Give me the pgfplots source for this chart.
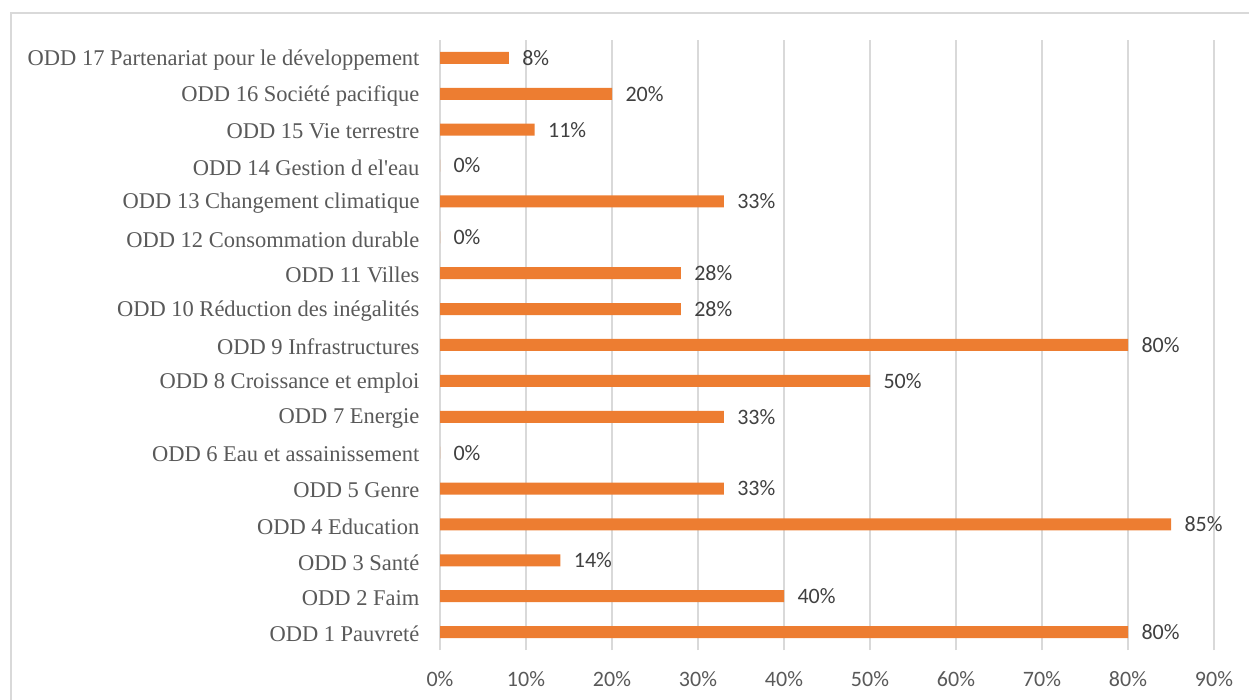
\documentclass[border=0pt]{standalone}
\usepackage{fontspec}
\setmainfont{Carlito}
\newfontfamily\serifl{Liberation Serif}
\usepackage{pgfplots}
\pgfplotsset{compat=1.18}
\definecolor{barorange}{HTML}{ED7D31}
\definecolor{txtgray}{HTML}{595959}
\definecolor{gridgray}{HTML}{D9D9D9}
\begin{document}
\begin{tikzpicture}
\begin{axis}[
  at={(440bp,50bp)}, anchor=south west,
  scale only axis,
  width=774bp, height=610bp,
  xbar, bar width=12bp,
  xmin=0, xmax=90,
  ymin=0.5, ymax=17.5,
  xtick={0,10,...,90},
  ytick={1,...,17},
  yticklabels={ODD 1 Pauvreté,ODD 2 Faim,ODD 3 Santé,ODD 4 Education,ODD 5 Genre,ODD 6 Eau et assainissement,ODD 7 Energie,ODD 8 Croissance et emploi,ODD 9 Infrastructures,ODD 10 Réduction des inégalités,ODD 11 Villes,ODD 12 Consommation durable,ODD 13 Changement climatique,ODD 14 Gestion d el'eau,ODD 15 Vie terrestre,ODD 16 Société pacifique,ODD 17 Partenariat pour le développement},
  yticklabel style={font=\serifl\fontsize{22.5bp}{26bp}\selectfont, text=txtgray, xshift=-17bp, yshift=-2bp},
  xticklabel={\pgfmathprintnumber{\tick}\%},
  xticklabel style={font=\fontsize{22bp}{26bp}\selectfont, text=txtgray, yshift=-18bp},
  /pgf/number format/assume math mode=true,
  axis line style={draw=none},
  major tick length=0pt,
  xmajorgrids,
  grid style={draw=gridgray, line width=1.5bp},
  nodes near coords={\pgfmathprintnumber{\pgfplotspointmeta}\%},
  nodes near coords style={font=\fontsize{22bp}{26bp}\selectfont, text=black!75, anchor=west, xshift=10bp},
  clip=false,
]
\addplot[fill=barorange, draw=none] coordinates {
(80,1) (40,2) (14,3) (85,4) (33,5) (0,6) (33,7) (50,8) (80,9) (28,10) (28,11) (0,12) (33,13) (0,14) (11,15) (20,16) (8,17)};
\end{axis}
\draw[gridgray, line width=1.5bp] (11bp,-20bp) -- (11bp,687bp) -- (1270bp,687bp);
\pgfresetboundingbox
\useasboundingbox (0,0) rectangle (1249bp,700bp);
\end{tikzpicture}
\end{document}
